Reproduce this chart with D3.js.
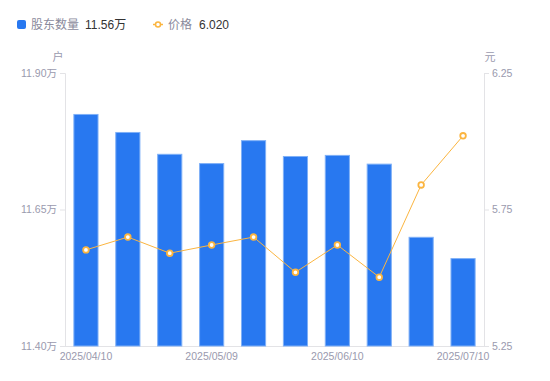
<!DOCTYPE html>
<html><head><meta charset="utf-8">
<script src="https://cdn.jsdelivr.net/npm/d3@7"></script>
<style>
html,body{margin:0;padding:0;background:#fff;}
svg{display:block;font-family:"Liberation Sans","Noto Sans CJK SC",sans-serif;}
</style></head>
<body>
<svg id="c" width="550" height="381"></svg>
<script>
const dates = ["2025/04/10","2025/04/18","2025/04/30","2025/05/09","2025/05/20","2025/05/30","2025/06/10","2025/06/20","2025/06/30","2025/07/10"];
const holders = [11.825,11.792,11.752,11.735,11.777,11.748,11.750,11.734,11.600,11.561];
const prices = [5.602,5.649,5.590,5.620,5.649,5.520,5.620,5.502,5.840,6.020];
const leftTicks = [11.40,11.65,11.90];
const rightTicks = [5.25,5.75,6.25];
const xLabelDates = ["2025/04/10","2025/05/09","2025/06/10","2025/07/10"];

const svg = d3.select("#c");
const L = 65, R = 484, T = 73, B = 346;
const x = d3.scaleBand().domain(dates).range([L,R]).paddingInner(0.4).paddingOuter(0.2);
const yL = d3.scaleLinear().domain([11.40,11.90]).range([B,T]);
const yR = d3.scaleLinear().domain([5.25,6.25]).range([B,T]);
const axisCol = "#e3e3e6", textCol = "#9a9aae";

// axes lines
const gL = svg.append("g").attr("transform",`translate(${L},0)`)
  .call(d3.axisLeft(yL).tickValues(leftTicks).tickSize(5).tickPadding(3).tickFormat(d=>d3.format(".2f")(d)+"万"));
const gR = svg.append("g").attr("transform",`translate(${R},0)`)
  .call(d3.axisRight(yR).tickValues(rightTicks).tickSize(5).tickPadding(3).tickFormat(d3.format(".2f")));
const gX = svg.append("g").attr("transform",`translate(0,${B})`)
  .call(d3.axisBottom(x).tickValues(xLabelDates).tickSize(0).tickPadding(7));
[gL,gR,gX].forEach(g=>{
  g.selectAll("path.domain").attr("stroke",axisCol);
  g.selectAll("line").attr("stroke",axisCol);
  g.selectAll("text").attr("fill",textCol).style("font-size","10.5px").style("font-family",'"Liberation Sans","Noto Sans CJK SC",sans-serif');
});
gX.select("path.domain").attr("d",`M${L},0.5H${R}`);

// unit labels
svg.append("text").attr("x",58).attr("y",61).attr("text-anchor","middle").attr("fill",textCol).style("font-size","11px").style("font-family","Noto Sans CJK SC").text("户");
svg.append("text").attr("x",490).attr("y",61).attr("text-anchor","middle").attr("fill",textCol).style("font-size","11px").style("font-family","Noto Sans CJK SC").text("元");

// bars
svg.append("g").selectAll("rect").data(dates).join("rect")
  .attr("x",d=>x(d)+0.5).attr("width",x.bandwidth()-1)
  .attr("y",(d,i)=>yL(holders[i])+0.5).attr("height",(d,i)=>B-yL(holders[i])-0.5)
  .attr("fill","#2878f0").attr("stroke","#7fb0f7").attr("stroke-width",1);

// line
const line = d3.line().x((d,i)=>x(dates[i])+x.bandwidth()/2).y(d=>yR(d));
svg.append("path").datum(prices).attr("d",line).attr("fill","none").attr("stroke","#fbb540").attr("stroke-width",1);
svg.append("g").selectAll("circle").data(prices).join("circle")
  .attr("cx",(d,i)=>x(dates[i])+x.bandwidth()/2).attr("cy",d=>yR(d)).attr("r",2.8)
  .attr("fill","#fff").attr("stroke","#fbb540").attr("stroke-width",1.8);

// legend
const lg = svg.append("g").style("font-size","12px");
lg.append("rect").attr("x",17).attr("y",20).attr("width",9).attr("height",9).attr("rx",2).attr("fill","#2878f0");
lg.append("text").attr("x",31).attr("y",29).attr("fill","#8a8a9c").style("font-family","Noto Sans CJK SC").text("股东数量");
lg.append("text").attr("x",85).attr("y",29).attr("fill","#333").text(d3.format(".2f")(holders[holders.length-1])+"万");
lg.append("line").attr("x1",153).attr("x2",163).attr("y1",24.5).attr("y2",24.5).attr("stroke","#fbb540").attr("stroke-width",1.5);
lg.append("circle").attr("cx",158).attr("cy",24.5).attr("r",2.5).attr("fill","#fff").attr("stroke","#fbb540").attr("stroke-width",1.5);
lg.append("text").attr("x",168).attr("y",29).attr("fill","#8a8a9c").style("font-family","Noto Sans CJK SC").text("价格");
lg.append("text").attr("x",199).attr("y",29).attr("fill","#333").text(d3.format(".3f")(prices[prices.length-1]));
</script>
</body></html>
